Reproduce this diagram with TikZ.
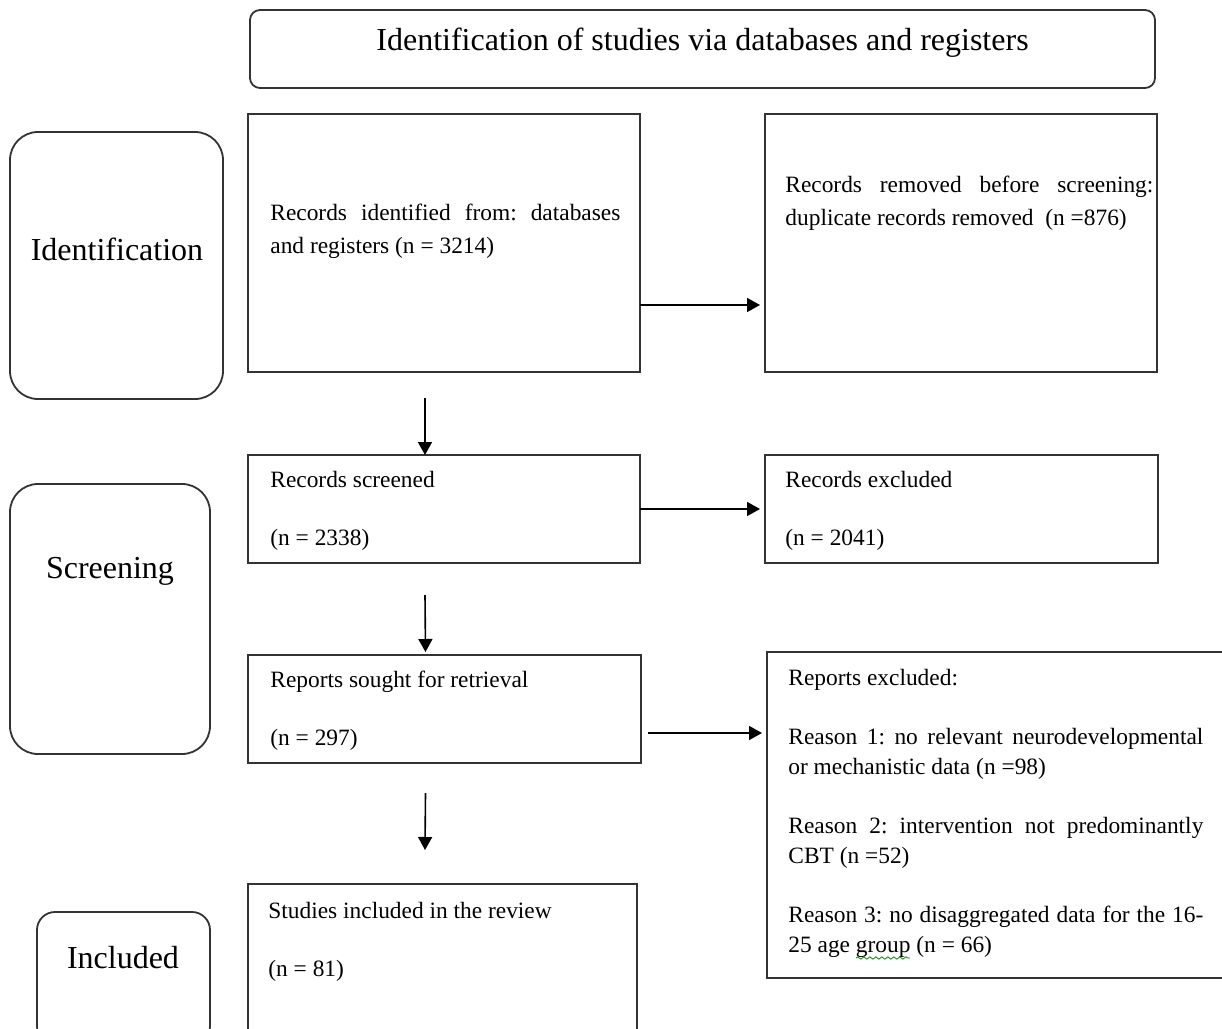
\documentclass[tikz,border=0pt]{standalone}
\usepackage{fontspec}
\setmainfont{Liberation Serif}
\usetikzlibrary{arrows.meta,positioning,calc,decorations.pathmorphing}
\frenchspacing

\begin{document}
\begin{tikzpicture}[x = 0.5pt, y = -0.5pt,
  box/.style = {draw = black!80, line width = 0.9pt, inner sep = 0pt, outer sep = 0pt, anchor = north west},
  side/.style = {box, rounded corners = 14pt},
  txt/.style = {inner sep = 0pt, anchor = base west, align = justify, font = \fontsize{11.7}{16.5}\selectfont},
  pair/.style = {inner sep = 0pt, anchor = base west, text width = 180pt, align = flush left, font = \fontsize{11.7}{29}\selectfont},
  lbl/.style = {inner sep = 0pt, anchor = base, font = \fontsize{16}{19}\selectfont},
  arr/.style = {-{Triangle[length = 6.5pt, width = 7pt]}, line width = 0.8pt}]
\useasboundingbox (0,0) rectangle (1222,1029);

\node[box, rounded corners = 5pt, minimum width = 452.5pt, minimum height = 39pt] (hdr) at (250,10) {};
\node[lbl] (hdr-t) at (702.5,50) {Identification of studies via databases and registers};

\node[side, minimum width = 106.5pt, minimum height = 133.5pt] (idl) at (10,132) {};
\node[lbl] (idl-t) at (117,260) {Identification};
\node[side, minimum width = 100pt, minimum height = 135pt] (scl) at (10,484) {};
\node[lbl] (scl-t) at (110,578) {Screening};
\node[side, rounded corners = 9pt, minimum width = 86.5pt, minimum height = 66pt] (inl) at (37,912) {};
\node[lbl] (inl-t) at (123,968) {Included};

\node[box, minimum width = 196pt, minimum height = 129pt] (idf) at (248,114) {};
\node[txt, text width = 175pt] (idf-t) at (270,220)
  {Records identified from: databases\linebreak and registers (n = 3214)};
\node[box, minimum width = 196pt, minimum height = 129pt] (rem) at (765,114) {};
\node[txt, text width = 184pt] (rem-t) at (785,192)
  {Records removed before screening:\linebreak duplicate records removed\ \ (n =876)};

\node[box, minimum width = 196pt, minimum height = 54pt] (scr) at (248,455) {};
\node[pair] (scr-t) at (270,487) {Records screened\\(n = 2338)};
\node[box, minimum width = 196.5pt, minimum height = 54pt] (exc) at (765,455) {};
\node[pair] (exc-t) at (785,487) {Records excluded\\(n = 2041)};

\node[box, minimum width = 196.5pt, minimum height = 54pt] (sgt) at (248,655) {};
\node[pair] (sgt-t) at (270,687) {Reports sought for retrieval\\(n = 297)};
\node[box, minimum width = 240pt, minimum height = 163pt] (rex) at (767,652) {};
\node[txt, text width = 207.5pt, font = \fontsize{11.7}{15}\selectfont] (rex-t) at (788,685)
  {Reports excluded:\\[14.5pt]
   Reason 1: no relevant neurodevelopmental\linebreak or mechanistic data (n =98)\\[14.5pt]
   Reason 2: intervention not predominantly\linebreak CBT (n =52)\\[14.5pt]
   Reason 3: no disaggregated data for the 16-\linebreak 25 age group (n = 66)};
\draw[green!55!black, line width = 0.4pt, decorate, decoration = {snake, amplitude = 0.6pt, segment length = 3pt}] (856,958) -- (910,958);

\node[box, minimum width = 194.5pt, minimum height = 85pt] (stu) at (248,884) {};
\node[pair] (stu-t) at (268,918) {Studies included in the review\\(n = 81)};

\draw[arr] ([shift={(0,62)}]idf.east) -- ([shift={(-5,62)}]rem.west);
\draw[arr] ([shift={(-19,26)}]idf.south) -- ([shift={(-19,0)}]scr.north);
\draw[arr] (scr.east) -- ([xshift=-2.5pt]exc.west);
\draw[arr] ([shift={(-19,32)}]scr.south) -- ([shift={(-19,-3)}]sgt.north);
\coordinate (a5) at ([shift={(7,24)}]sgt.east);
\draw[arr, shorten >= 2.5pt] (a5) -- (a5 -| rex.west);
\draw[arr] ([shift={(-19,30)}]sgt.south) -- ([shift={(-17.5,-34)}]stu.north);
\end{tikzpicture}
\end{document}
